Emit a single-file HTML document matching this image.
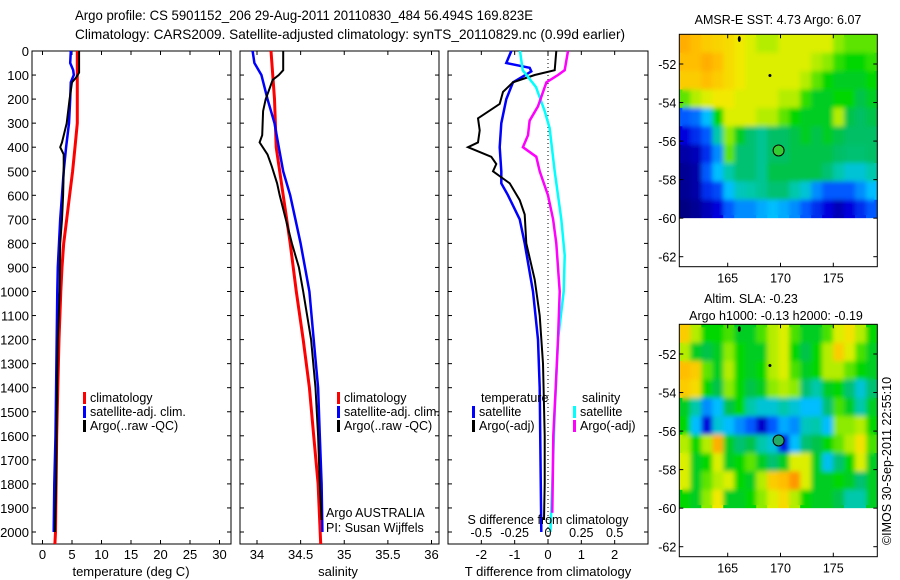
<!DOCTYPE html>
<html><head><meta charset="utf-8"><title>Argo profile</title>
<style>
html,body{margin:0;padding:0;background:#fff;}
svg{display:block;font-family:"Liberation Sans",sans-serif;}
</style></head>
<body>
<svg id="fig" width="900" height="580" viewBox="0 0 900 580" xmlns="http://www.w3.org/2000/svg">
<defs><filter id="blur" x="-5%" y="-5%" width="110%" height="110%"><feGaussianBlur stdDeviation="2.5"/></filter></defs>
<text x="75" y="20" font-size="14" textLength="458" lengthAdjust="spacingAndGlyphs">Argo profile: CS 5901152_206 29-Aug-2011 20110830_484 56.494S 169.823E</text>
<text x="75" y="39" font-size="14" textLength="550" lengthAdjust="spacingAndGlyphs">Climatology: CARS2009. Satellite-adjusted climatology: synTS_20110829.nc (0.99d earlier)</text>
<g id="g"></g>
</svg>
<script>
// ---------- data ----------
const depthTicks=[0,100,200,300,400,500,600,700,800,900,1000,1100,1200,1300,1400,1500,1600,1700,1800,1900,2000];
const tempTicks=[0,5,10,15,20,25,30];
const salTicks=[34,34.5,35,35.5,36];
const tdiffTicks=[-2,-1,0,1,2];
const tdiffLabels=["-2","-1","0","1","2"];
const sdiffTicks=[-0.5,-0.25,0,0.25,0.5];
const sdiffLabels=["-0.5","-0.25","0","0.25","0.5"];

const climTdep=[0,100,200,300,400,500,600,700,800,900,1000,1200,1400,1600,1800,2000,2050];
const climTval=[5.9,5.9,5.9,5.9,5.5,5.1,4.6,4.1,3.6,3.3,3.1,2.8,2.6,2.4,2.3,2.2,2.1];
const satTdep=[0,50,80,100,130,200,300,400,500,600,700,800,900,1000,1200,1400,1600,1800,2000];
const satTval=[4.8,4.7,5.2,5.3,4.8,4.7,4.5,4.0,3.6,3.3,3.0,2.8,2.6,2.5,2.4,2.3,2.2,2.0,1.9];
const argoTdep=[0,90,110,130,200,300,380,400,430,500,600,700,800,1000,1200,1500,1800,2000];
const argoTval=[6.2,6.2,5.7,5.0,4.6,4.1,3.3,3.0,3.6,3.6,3.5,3.3,3.0,2.9,2.6,2.4,2.3,2.1];

const climSdep=[0,200,400,600,800,1000,1200,1400,1600,1800,2050];
const climSval=[34.16,34.2,34.22,34.3,34.38,34.45,34.53,34.6,34.65,34.7,34.73];
const satSdep=[0,50,100,200,300,400,500,600,700,800,900,1000,1200,1400,1600,1800,2000];
const satSval=[33.95,33.97,34.05,34.12,34.2,34.25,34.3,34.38,34.44,34.5,34.55,34.6,34.65,34.7,34.72,34.74,34.75];
const argoSdep=[0,80,100,120,200,250,350,380,430,480,550,600,700,800,900,1000,1200,1400,1600,1800,1950];
const argoSval=[34.3,34.3,34.25,34.18,34.1,34.07,34.06,34.03,34.12,34.17,34.23,34.26,34.33,34.4,34.48,34.53,34.62,34.67,34.7,34.72,34.74];

const dSatTdep=[0,50,70,85,130,200,300,400,500,550,600,700,800,1000,1200,1400,2000];
const dSatTval=[-1.1,-1.25,-0.55,-0.5,-1.05,-1.25,-1.4,-1.45,-1.4,-1.4,-1.2,-0.85,-0.7,-0.45,-0.3,-0.25,-0.2];
const dArgoTdep=[0,80,100,130,170,220,280,330,380,400,440,470,500,550,620,680,800,950,1100,1300,1600,1800,1950];
const dArgoTval=[0.25,0.2,-0.4,-1.05,-1.35,-1.45,-2.1,-2.05,-2.1,-2.4,-1.7,-1.55,-1.65,-1.15,-0.85,-0.7,-0.65,-0.4,-0.25,-0.15,-0.1,-0.1,-0.12];
const dSatSdep=[0,80,150,250,320,500,700,850,1000,1200,1500,1800,2000];
const dSatSval=[-0.21,-0.19,-0.09,-0.025,0.012,0.05,0.1,0.125,0.118,0.075,0.05,0.032,0.018];
const dArgoSdep=[0,80,100,130,230,290,350,400,440,500,600,700,800,1000,1200,1400,1600,1800,1920];
const dArgoSval=[0.15,0.125,0.075,-0.012,-0.075,-0.138,-0.15,-0.188,-0.088,-0.062,0,0.038,0.062,0.088,0.075,0.058,0.04,0.035,0.032];

const mapLonTicks=[165,170,175];
const mapLatTicks=[52,54,56,58,60,62];
const sstGrid=[
[0.72,0.7,0.68,0.67,0.66,0.64,0.62,0.6,0.6,0.62,0.62,0.62,0.62,0.62,0.58,0.56,0.56,0.56],
[0.7,0.7,0.72,0.7,0.66,0.64,0.62,0.62,0.62,0.62,0.62,0.62,0.6,0.58,0.54,0.52,0.52,0.54],
[0.68,0.68,0.7,0.68,0.66,0.64,0.62,0.62,0.62,0.62,0.62,0.6,0.56,0.52,0.5,0.5,0.5,0.52],
[0.56,0.6,0.62,0.64,0.64,0.62,0.62,0.62,0.62,0.6,0.6,0.54,0.5,0.5,0.52,0.52,0.48,0.5],
[0.2,0.22,0.3,0.52,0.62,0.62,0.62,0.6,0.6,0.56,0.52,0.5,0.5,0.5,0.6,0.48,0.46,0.48],
[0.1,0.15,0.2,0.4,0.58,0.5,0.45,0.42,0.46,0.46,0.48,0.5,0.48,0.5,0.48,0.46,0.46,0.46],
[0.04,0.06,0.15,0.25,0.56,0.45,0.45,0.42,0.46,0.46,0.48,0.48,0.48,0.48,0.46,0.45,0.45,0.46],
[0.02,0.04,0.2,0.3,0.4,0.45,0.45,0.42,0.48,0.48,0.48,0.48,0.48,0.45,0.4,0.35,0.35,0.4],
[0.02,0.04,0.15,0.18,0.3,0.38,0.4,0.42,0.45,0.45,0.4,0.35,0.25,0.2,0.2,0.2,0.25,0.3],
[0.0,0.02,0.06,0.1,0.2,0.25,0.25,0.28,0.3,0.28,0.25,0.2,0.15,0.1,0.06,0.1,0.15,0.2]];
const slaGrid=[
[0.68,0.6,0.52,0.52,0.55,0.5,0.5,0.55,0.6,0.62,0.55,0.5,0.5,0.55,0.62,0.65,0.6,0.52],
[0.6,0.5,0.48,0.5,0.58,0.52,0.5,0.5,0.6,0.62,0.52,0.48,0.52,0.6,0.68,0.62,0.55,0.5],
[0.7,0.68,0.56,0.5,0.6,0.52,0.5,0.52,0.6,0.62,0.55,0.5,0.52,0.6,0.6,0.56,0.52,0.5],
[0.68,0.66,0.52,0.48,0.58,0.52,0.48,0.5,0.58,0.6,0.58,0.45,0.4,0.5,0.52,0.45,0.35,0.45],
[0.5,0.4,0.25,0.3,0.48,0.52,0.4,0.35,0.35,0.4,0.35,0.3,0.3,0.45,0.55,0.5,0.4,0.5],
[0.52,0.3,0.1,0.35,0.3,0.25,0.2,0.08,0.2,0.28,0.25,0.38,0.4,0.3,0.58,0.58,0.6,0.52],
[0.6,0.52,0.6,0.72,0.5,0.45,0.48,0.4,0.35,0.12,0.3,0.45,0.48,0.52,0.56,0.6,0.65,0.55],
[0.62,0.5,0.52,0.62,0.5,0.52,0.56,0.5,0.45,0.5,0.62,0.62,0.5,0.32,0.45,0.52,0.62,0.5],
[0.62,0.5,0.56,0.6,0.62,0.52,0.5,0.6,0.68,0.7,0.75,0.62,0.5,0.5,0.52,0.5,0.45,0.5],
[0.52,0.5,0.58,0.64,0.5,0.5,0.52,0.58,0.62,0.66,0.6,0.52,0.5,0.5,0.48,0.4,0.4,0.5]];
const argoLon=[169.82];
const argoLat=[56.49];
const islandLon=[166.1,169.0];
const islandLat=[50.7,52.6];

// ---------- helpers ----------
const NS="http://www.w3.org/2000/svg";
const G=document.getElementById('g');
function mk(tag,attrs,parent){const e=document.createElementNS(NS,tag);for(const k in attrs)e.setAttribute(k,attrs[k]);(parent||G).appendChild(e);return e;}
function txt(x,y,s,size,anchor,parent){const t=mk('text',{x:x,y:y,'font-size':size,'text-anchor':anchor||'start'},parent);t.textContent=s;return t;}
const Y0=51,Y1=544;
const yDepth=d=>Y0+d*(532-51)/2000;
function lin(d0,d1,r0,r1){return v=>r0+(v-d0)*(r1-r0)/(d1-d0);}

function panel(name,x0,x1,xs,ticks,labels,showDepth){
  const g=mk('g',{});
  
  
  const r=mk('rect',{x:x0,y:Y0,width:x1-x0,height:Y1-Y0,fill:'none',stroke:'#000','stroke-width':1},g);
  
  
  depthTicks.forEach(d=>{const y=yDepth(d);
    mk('line',{x1:x0,x2:x0+4,y1:y,y2:y,stroke:'#000'},g);
    mk('line',{x1:x1-4,x2:x1,y1:y,y2:y,stroke:'#000'},g);
    if(showDepth){const t=txt(x0-3,y+5,String(d),13,'end',g);
      
      }
  });
  ticks.forEach((v,i)=>{const x=xs(v);
    mk('line',{x1:x,x2:x,y1:Y1,y2:Y1-4,stroke:'#000'},g);
    mk('line',{x1:x,x2:x,y1:Y0,y2:Y0+4,stroke:'#000'},g);
    const t=txt(x,559,labels[i],13,'middle',g);
    
    
  });
  return g;
}
function profile(name,xs,deps,vals,color,w){
  const pts=deps.map((d,i)=>xs(vals[i]).toFixed(1)+','+yDepth(d).toFixed(1)).join(' ');
  const p=mk('polyline',{points:pts,fill:'none',stroke:color,'stroke-width':w,'stroke-linejoin':'miter'});
  
  
}
function legendEntry(x,y,color,label,name){
  const g=mk('g',{});
  
  
  mk('rect',{x:x,y:y-10,width:3,height:12,fill:color},g);
  txt(x+7,y,label,12.5,'start',g);
}

// ---------- panel 1: temperature ----------
const xT=lin(0,30,42.5,219.5);
panel('temperature-panel',32,231,xT,tempTicks,tempTicks.map(String),true);
profile('climatology-temperature-line',xT,climTdep,climTval,'#f00',3);
profile('satellite-temperature-line',xT,satTdep,satTval,'#00f',2.5);
profile('argo-temperature-line',xT,argoTdep,argoTval,'#000',2);
let t=txt(131,576,'temperature (deg C)',13,'middle');


legendEntry(83,402,'#f00','climatology','legend-climatology');
legendEntry(83,416,'#00f','satellite-adj. clim.','legend-satellite-adj');
legendEntry(83,430,'#000','Argo(..raw -QC)','legend-argo');

// ---------- panel 2: salinity ----------
const xS=lin(34,36,257,431.5);
panel('salinity-panel',240,439,xS,salTicks,salTicks.map(String),false);
profile('climatology-salinity-line',xS,climSdep,climSval,'#f00',3);
profile('satellite-salinity-line',xS,satSdep,satSval,'#00f',2.5);
profile('argo-salinity-line',xS,argoSdep,argoSval,'#000',2);
t=txt(338,576,'salinity',13,'middle');


legendEntry(337,402,'#f00','climatology','legend-climatology-sal');
legendEntry(337,416,'#00f','satellite-adj. clim.','legend-satellite-adj-sal');
legendEntry(337,430,'#000','Argo(..raw -QC)','legend-argo-sal');
t=txt(326,517,'Argo AUSTRALIA',12.5,'start');


t=txt(326,532,'PI: Susan Wijffels',12.5,'start');



// ---------- panel 3: differences ----------
const xD=lin(-3,3,448,648);
const xDS=v=>xD(v*4);
panel('difference-panel',448,648,xD,tdiffTicks,tdiffLabels,false);
const zl=mk('line',{x1:xD(0),x2:xD(0),y1:Y0,y2:Y1,stroke:'#000','stroke-dasharray':'1,3'});


profile('satellite-temperature-diff-line',xD,dSatTdep,dSatTval,'#00f',2.5);
profile('argo-temperature-diff-line',xD,dArgoTdep,dArgoTval,'#000',2);
profile('satellite-salinity-diff-line',xDS,dSatSdep,dSatSval,'#0ff',2.5);
profile('argo-salinity-diff-line',xDS,dArgoSdep,dArgoSval,'#f0f',2.5);
sdiffTicks.forEach((v,i)=>{const s=txt(xDS(v),537,sdiffLabels[i],12.5,'middle');
  
  });
t=txt(548,524,'S difference from climatology',12.5,'middle');


t=txt(548,576,'T difference from climatology',13,'middle');


t=txt(481,402,'temperature',12.5,'start');


t=txt(582,402,'salinity',12.5,'start');


legendEntry(472,416,'#00f','satellite','legend-t-satellite');
legendEntry(472,430,'#000','Argo(-adj)','legend-t-argo');
legendEntry(573,416,'#0ff','satellite','legend-s-satellite');
legendEntry(573,430,'#f0f','Argo(-adj)','legend-s-argo');

// ---------- maps ----------
const cmapStops=[0,0.1,0.2,0.3,0.4,0.47,0.52,0.58,0.63,0.7,0.8,1];
const cmapRGB=[[0,0,130],[0,0,220],[0,90,255],[0,190,255],[0,200,170],[0,190,90],[0,215,0],[140,235,0],[240,240,0],[255,190,0],[255,110,0],[200,0,0]];
function cmap(v){
  v=Math.max(0,Math.min(1,v));
  let i=0;while(i<cmapStops.length-2&&v>cmapStops[i+1])i++;
  const f=(v-cmapStops[i])/(cmapStops[i+1]-cmapStops[i]);
  const a=cmapRGB[i],b=cmapRGB[i+1];
  return 'rgb('+a.map((c,k)=>Math.round(c+(b[k]-c)*f)).join(',')+')';
}
let clipId=0;
function map(name,top,grid,titles){
  const g=mk('g',{});
  
  
  const L=679.3,R=877.3,B=top+232.4;
  const xl=lin(165,175,727.7,833.3);
  const yl=lin(52,62,top+29.7,top+222.4);
  const lon0=160.42,lon1=179.14,lat0=50.46,lat1=60;
  const nr=grid.length,nc=grid[0].length;
  const dl=(lon1-lon0)/nc,dt=(lat1-lat0)/nr;
  const cid='clip'+(clipId++);
  const cp=mk('clipPath',{id:cid},G);
  mk('rect',{x:L+3,y:top+3,width:R-L-6,height:yl(lat1)-top-6},cp);
  const base=mk('g',{},g);
  const sm=mk('g',{'clip-path':'url(#'+cid+')'},g);
  const smi=mk('g',{filter:'url(#blur)'},sm);
  [base,smi].forEach(layer=>grid.forEach((row,i)=>row.forEach((v,j)=>{
    const x=xl(lon0+j*dl),y=yl(lat0+i*dt);
    const c=mk('rect',{x:x.toFixed(2),y:y.toFixed(2),width:(xl(lon0+(j+1)*dl)-x+0.6).toFixed(2),height:(yl(lat0+(i+1)*dt)-y+0.6).toFixed(2),fill:cmap(v)},layer);
    
    
  })));
  mk('rect',{x:L,y:yl(lat1),width:R-L,height:B-yl(lat1),fill:'#fff'},g);
  mk('rect',{x:L,y:top,width:R-L,height:B-top,fill:'none',stroke:'#000'},g);
  mapLatTicks.forEach(la=>{const y=yl(la);
    mk('line',{x1:L,x2:L+4,y1:y,y2:y,stroke:'#000'},g);
    mk('line',{x1:R-4,x2:R,y1:y,y2:y,stroke:'#000'},g);
    const s=txt(L-3,y+5,'-'+la,12.5,'end',g);
    
    });
  mapLonTicks.forEach(lo=>{const x=xl(lo);
    mk('line',{x1:x,x2:x,y1:B,y2:B-4,stroke:'#000'},g);
    mk('line',{x1:x,x2:x,y1:top,y2:top+4,stroke:'#000'},g);
    const s=txt(x,B+16,String(lo),12.5,'middle',g);
    
    });
  islandLon.forEach((lo,i)=>{const d=mk('ellipse',{cx:xl(lo),cy:yl(islandLat[i]),rx:1.5,ry:i==0?3:1.5,fill:'#000'},g);
    
    });
  argoLon.forEach((lo,i)=>{const c=mk('circle',{cx:xl(lo),cy:yl(argoLat[i]),r:5.5,fill:name==='sst-map'?'#3c3':'#2a6',stroke:'#000','stroke-width':1},g);
    
    });
  titles.forEach(tt=>{const a=txt(tt[1],tt[2],tt[0],12.5,'middle',g);
    
    });
}
map('sst-map',34.3,sstGrid,[['AMSR-E SST: 4.73 Argo: 6.07',778,24]]);
map('sla-map',324.3,slaGrid,[['Altim. SLA: -0.23',751,303],['Argo h1000: -0.13 h2000: -0.19',776,320]]);

t=txt(0,0,'\u00a9IMOS 30-Sep-2011 22:55:10',12.5,'middle');
t.setAttribute('transform','translate(891,461) rotate(-90)');


</script>
</body></html>
